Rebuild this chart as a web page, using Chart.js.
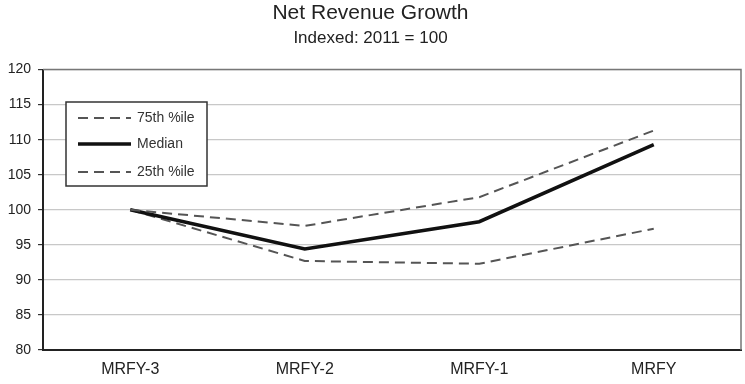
<!DOCTYPE html>
<html>
<head>
<meta charset="utf-8">
<script src="https://cdn.jsdelivr.net/npm/chart.js@4/dist/chart.umd.min.js"></script>
<style>
  html, body { margin: 0; padding: 0; background: #fff; }
  #wrap { width: 745px; height: 384px; }
</style>
</head>
<body>
<div id="wrap"><canvas id="c" width="745" height="384"></canvas></div>
<script>
const categories = ['MRFY-3', 'MRFY-2', 'MRFY-1', 'MRFY'];
const p75 = [100, 97.7, 101.8, 111.3];
const median = [100, 94.4, 98.3, 109.3];
const p25 = [100, 92.7, 92.3, 97.3];
const yTicks = [80, 85, 90, 95, 100, 105, 110, 115, 120];

const FONT = "'Liberation Sans', Arial, sans-serif";

// Boxed legend drawn inside the plot area, top-left
const boxLegend = {
  id: 'boxLegend',
  afterDraw(chart) {
    const ctx = chart.ctx;
    const x = 66, y = 102, w = 141, h = 84;
    ctx.save();
    ctx.fillStyle = '#fff';
    ctx.fillRect(x, y, w, h);
    ctx.strokeStyle = '#333';
    ctx.lineWidth = 1.5;
    ctx.strokeRect(x, y, w, h);
    const rows = [118, 144, 172];
    chart.data.datasets.forEach((ds, i) => {
      const ry = rows[i];
      ctx.beginPath();
      ctx.strokeStyle = ds.borderColor;
      ctx.lineWidth = ds.borderWidth;
      ctx.setLineDash(ds.borderDash || []);
      ctx.moveTo(78, ry);
      ctx.lineTo(131, ry);
      ctx.stroke();
      ctx.setLineDash([]);
      ctx.fillStyle = '#333';
      ctx.font = '14px ' + FONT;
      ctx.textBaseline = 'middle';
      ctx.fillText(ds.label, 137, ry);
    });
    ctx.restore();
  }
};

// Plot area frame: top and right edges
const frame = {
  id: 'frame',
  beforeDatasetsDraw(chart) {
    const a = chart.chartArea, ctx = chart.ctx;
    ctx.save();
    ctx.strokeStyle = '#777';
    ctx.lineWidth = 1.5;
    ctx.beginPath();
    ctx.moveTo(a.left, a.top);
    ctx.lineTo(a.right, a.top);
    ctx.lineTo(a.right, a.bottom);
    ctx.stroke();
    ctx.restore();
  }
};

new Chart(document.getElementById('c'), {
  type: 'line',
  data: {
    labels: categories,
    datasets: [
      { label: '75th %ile', data: p75, borderColor: '#555', borderWidth: 2, borderDash: [10, 6], pointRadius: 0, tension: 0 },
      { label: 'Median', data: median, borderColor: '#111', borderWidth: 3.5, pointRadius: 0, tension: 0 },
      { label: '25th %ile', data: p25, borderColor: '#555', borderWidth: 2, borderDash: [10, 6], pointRadius: 0, tension: 0 }
    ]
  },
  options: {
    responsive: false,
    animation: false,
    layout: { padding: { left: 0, right: 4, top: 0, bottom: 0 } },
    plugins: {
      legend: { display: false },
      tooltip: { enabled: false },
      title: {
        display: true,
        text: 'Net Revenue Growth',
        color: '#222',
        font: { family: FONT, size: 21, weight: 'normal', lineHeight: 1.15 },
        padding: { top: 1, bottom: 3 }
      },
      subtitle: {
        display: true,
        text: 'Indexed: 2011 = 100',
        color: '#222',
        font: { family: FONT, size: 17, weight: 'normal', lineHeight: 1.2 },
        padding: { top: 0, bottom: 21 }
      }
    },
    scales: {
      x: {
        offset: true,
        grid: { display: false, drawTicks: false },
        border: { display: true, color: '#222', width: 2 },
        ticks: { color: '#222', font: { family: FONT, size: 16 }, padding: 10 },
        afterFit(s) { s.height = 34; }
      },
      y: {
        min: 80, max: 120,
        afterBuildTicks(s) { s.ticks = yTicks.map(v => ({ value: v })); },
        grid: { color: '#c8c8c8', lineWidth: 1.2, tickLength: 5, tickColor: '#333' },
        border: { display: true, color: '#222', width: 2 },
        ticks: { color: '#222', font: { family: FONT, size: 14 }, padding: 7 },
        afterFit(s) { s.width = 43; }
      }
    }
  },
  plugins: [frame, boxLegend]
});
</script>
</body>
</html>
